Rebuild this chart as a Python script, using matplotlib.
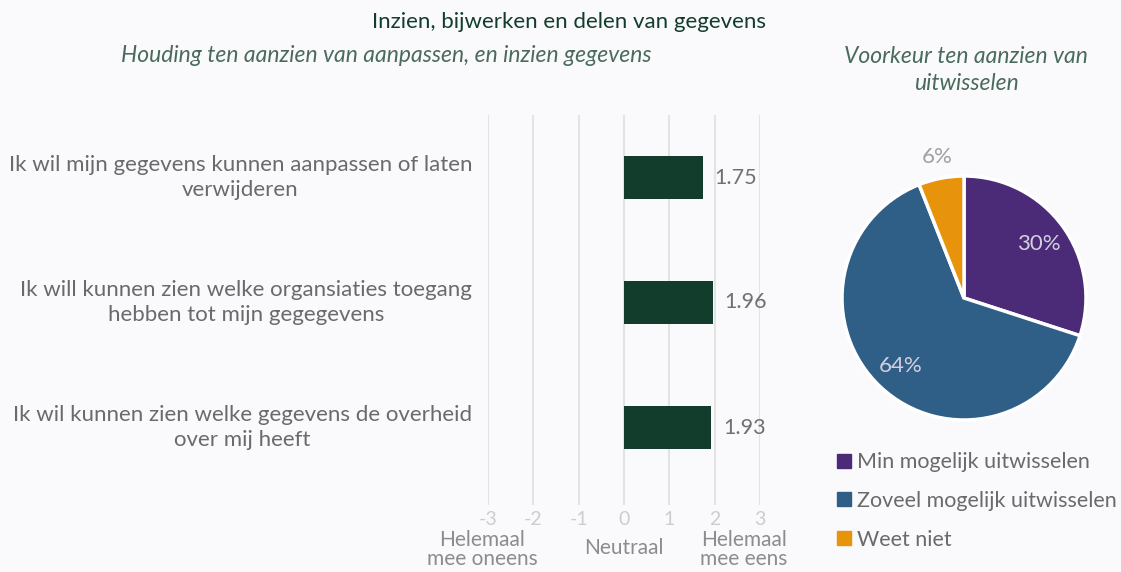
import matplotlib.pyplot as plt
import numpy as np

plt.rcParams['font.family'] = ['Lato', 'DejaVu Sans']

# bar data
statements = ["Ik wil mijn gegevens kunnen aanpassen of laten\nverwijderen",
              "Ik will kunnen zien welke organsiaties toegang\nhebben tot mijn gegegevens",
              "Ik wil kunnen zien welke gegevens de overheid\nover mij heeft"]
scores = [1.75, 1.96, 1.93]
scale_ticks = [-3, -2, -1, 0, 1, 2, 3]

# pie data
pie_labels = ["Min mogelijk uitwisselen", "Zoveel mogelijk uitwisselen", "Weet niet"]
pie_values = [30, 64, 6]
pie_colors = ["#4B2B78", "#2F5E87", "#E8930C"]

bg = "#FAFAFC"
bar_color = "#123D2C"

W, H = 1121, 572
fig = plt.figure(figsize=(W / 100, H / 100), dpi=100, facecolor=bg)

def px_axes(x0, y0, x1, y1):
    return fig.add_axes([x0 / W, 1 - y1 / H, (x1 - x0) / W, (y1 - y0) / H])

# ---- bar chart
ax = px_axes(488, 115, 760, 505)
ax.set_facecolor(bg)
ypos = np.arange(len(scores))
ax.barh(ypos, scores, height=0.35, color=bar_color, zorder=3)
ax.set_xlim(-3, 3)
ax.set_ylim(2.62, -0.5)
ax.set_xticks(scale_ticks)
ax.set_xticklabels([str(t) for t in scale_ticks], color="#CDCDCD", fontsize=14)
ax.tick_params(axis='x', length=0, pad=4)
ax.set_yticks([])
for x in scale_ticks:
    ax.axvline(x, color="#E3E3E3", lw=1.5, zorder=1)
for s in ax.spines.values():
    s.set_visible(False)
for y, v, lab in zip(ypos, scores, statements):
    ax.text(v + 0.25, y, f"{v:.2f}", va='center', ha='left', fontsize=15.5, color="#707070")
    ax.text(-3.35, y, lab, va='center', ha='right', multialignment='center',
            fontsize=16, color="#6A6A6A", linespacing=1.3)

# scale descriptions
xt = ax.get_xaxis_transform()
ax.text(-3.12, -0.065, "Helemaal\nmee oneens", transform=xt, ha='center', va='top',
        fontsize=15, color="#8C8C8C", linespacing=0.9)
ax.text(0, -0.085, "Neutraal", transform=xt, ha='center', va='top',
        fontsize=15, color="#8C8C8C")
ax.text(2.65, -0.065, "Helemaal\nmee eens", transform=xt, ha='center', va='top',
        fontsize=15, color="#8C8C8C", linespacing=0.9)

# ---- titles
fig.text(569 / W, 1 - 22 / H, "Inzien, bijwerken en delen van gegevens", ha='center',
         va='center', fontsize=16, color=bar_color)
fig.text(386 / W, 1 - 55 / H, "Houding ten aanzien van aanpassen, en inzien gegevens",
         ha='center', va='center', fontsize=16.5, style='italic', color="#4A6A5C")
fig.text(966 / W, 1 - 70 / H, "Voorkeur ten aanzien van\nuitwisselen", ha='center',
         va='center', fontsize=16.5, style='italic', color="#4A6A5C", linespacing=1.35)

# ---- pie
pax = px_axes(842, 176, 1086, 420)
wedges, texts, autotexts = pax.pie(pie_values, colors=pie_colors, startangle=90,
                                   counterclock=False, autopct='%d%%', pctdistance=0.76,
                                   wedgeprops=dict(edgecolor='white', linewidth=2.5),
                                   textprops=dict(fontsize=16, color="#D3D0E0"))
pax.set_xlim(-1, 1)
pax.set_ylim(-1, 1)
pax.set_aspect('equal')
# small slice label goes outside
w = wedges[2]
ang = np.deg2rad((w.theta1 + w.theta2) / 2)
autotexts[2].set_position((1.18 * np.cos(ang), 1.18 * np.sin(ang)))
autotexts[2].set_color("#A0A0A0")
autotexts[2].set_clip_on(False)

handles = [plt.Line2D([], [], marker='s', ls='', color=c, markersize=10) for c in pie_colors]
fig.legend(handles, pie_labels, loc='upper left', bbox_to_anchor=(818 / W, 1 - 437 / H),
           frameon=False, fontsize=15.5, labelcolor="#6A6A6A", handletextpad=0.1,
           labelspacing=0.88, handlelength=1.0, borderpad=0.2)

fig.savefig("out.png", dpi=100, facecolor=bg)
